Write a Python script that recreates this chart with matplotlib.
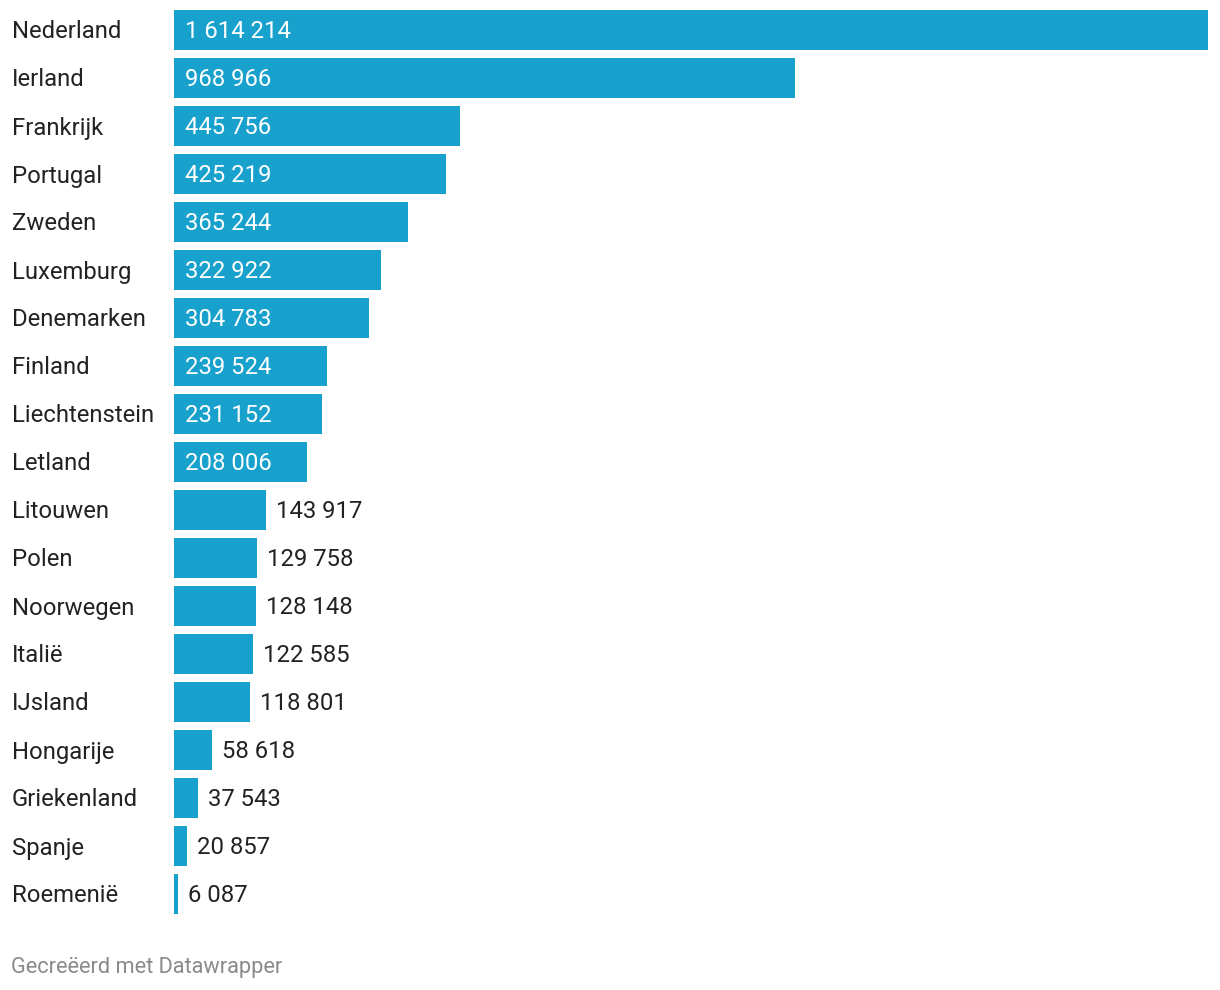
import matplotlib
matplotlib.use("Agg")
import matplotlib.pyplot as plt

# landen en waarden
landen = ["Nederland", "Ierland", "Frankrijk", "Portugal", "Zweden", "Luxemburg",
          "Denemarken", "Finland", "Liechtenstein", "Letland", "Litouwen", "Polen",
          "Noorwegen", "Italië", "IJsland", "Hongarije", "Griekenland", "Spanje", "Roemenië"]
waarden = [1614214, 968966, 445756, 425219, 365244, 322922, 304783, 239524, 231152,
           208006, 143917, 129758, 128148, 122585, 118801, 58618, 37543, 20857, 6087]

plt.rcParams['font.family'] = ['Roboto', 'DejaVu Sans']

kleur = '#18a1cd'
tekst = '#222222'

W, H = 1220, 990
fig = plt.figure(figsize=(W / 100, H / 100), dpi=100)
# assen: bars van x=174 tot 1208 px, rijen van 48 px
ax = fig.add_axes([174 / W, (H - 918) / H, 1034 / W, 912 / H])

y = list(range(len(landen)))
ax.barh(y, waarden, height=40 / 48, color=kleur)
ax.set_xlim(0, max(waarden))
ax.set_ylim(len(landen) - 0.5, -0.5)
ax.axis('off')


def fmt(v):
    return f"{v:,}".replace(",", " ")


px = max(waarden) / 1034  # data per pixel
dy = 2 / 48  # tekst iets omlaag
for i, (land, v) in enumerate(zip(landen, waarden)):
    ax.text(-162 * px, i + dy, land, ha='left', va='center', fontsize=17.2, color=tekst)
    if v >= 200000:
        ax.text(11 * px, i + dy, fmt(v), ha='left', va='center', fontsize=17.2, color='white')
    else:
        ax.text(v + 10 * px, i + dy, fmt(v), ha='left', va='center', fontsize=17.2, color=tekst)

fig.text(11 / W, 1 - 968 / H, "Gecreëerd met Datawrapper", ha='left', va='center',
         fontsize=15.7, color='#8a8a8a')

fig.savefig("out.png", dpi=100)
